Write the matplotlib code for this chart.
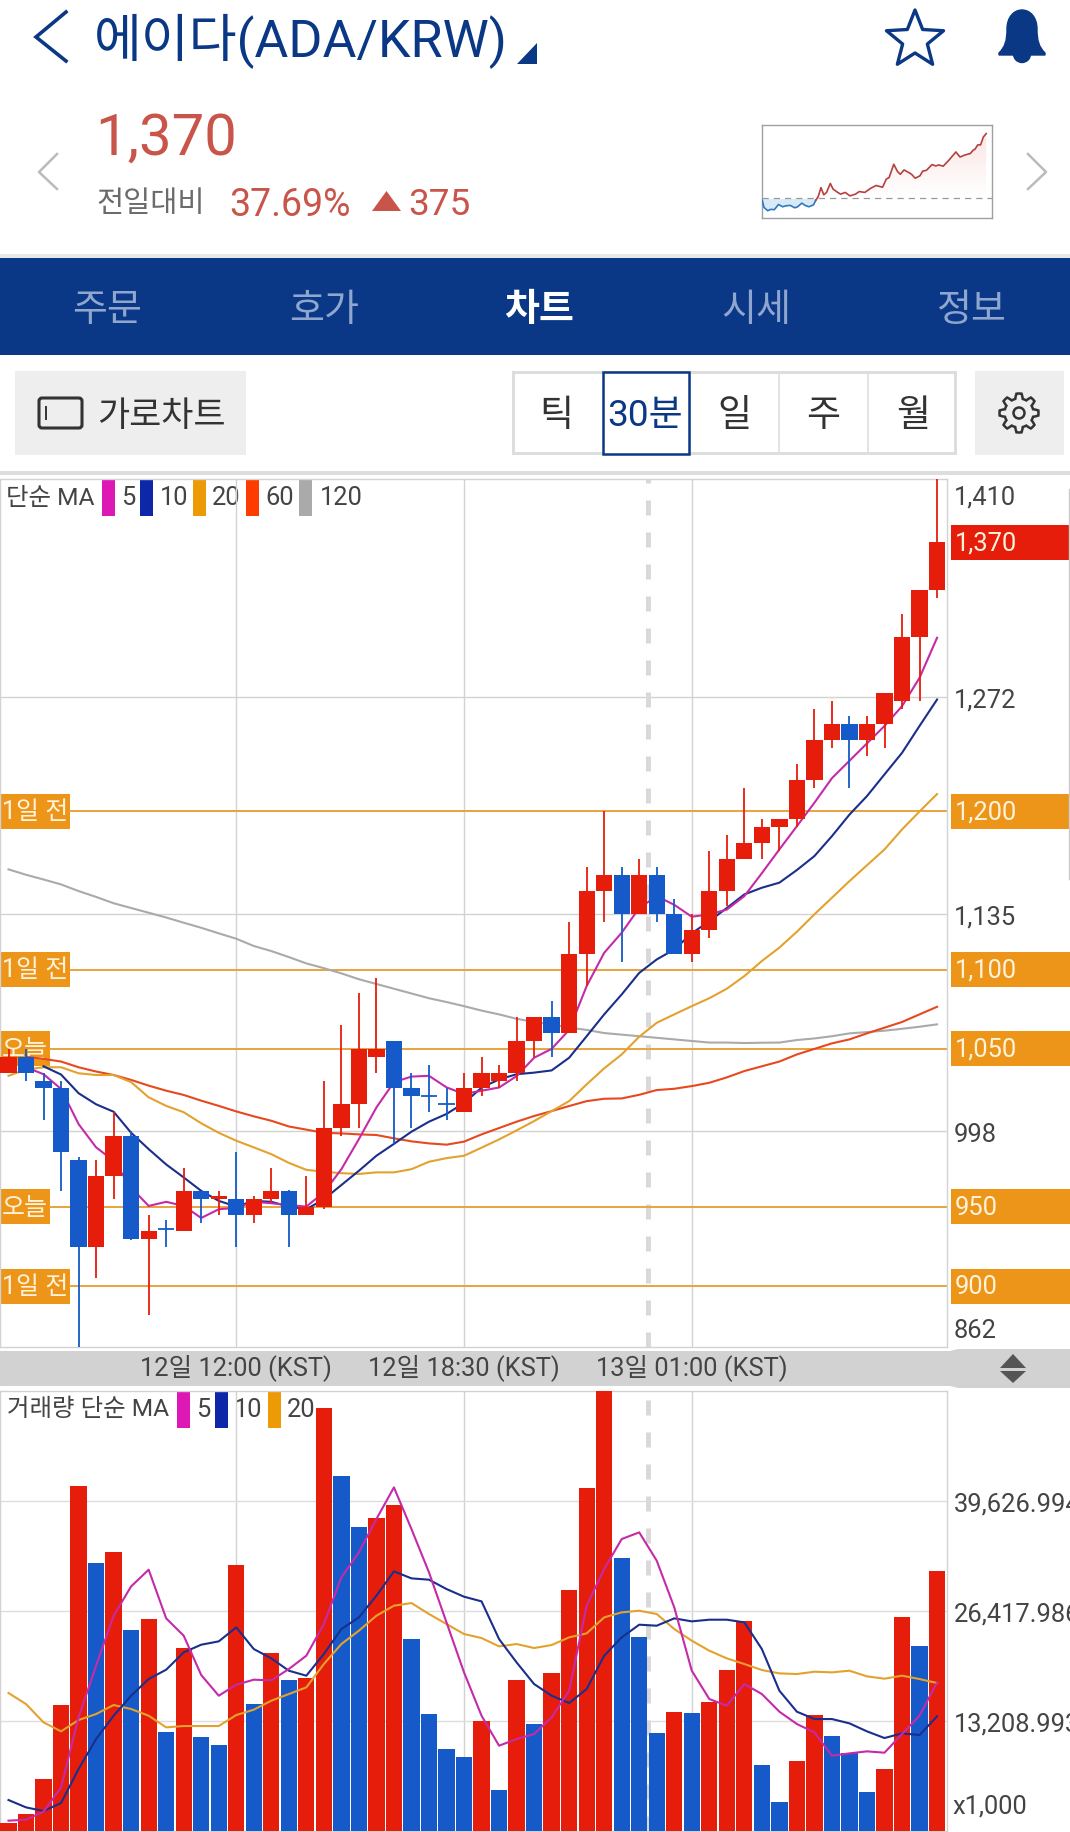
import numpy as np
import matplotlib
matplotlib.use("Agg")
import matplotlib.pyplot as plt
from matplotlib.patches import Rectangle, Polygon, Circle, PathPatch, FancyBboxPatch
from matplotlib.path import Path

plt.rcParams['font.family'] = ['Roboto', 'Noto Sans CJK KR', 'DejaVu Sans']

# ---------------- DATA ----------------
# candles, 30 minute bars
opens = [1035, 1045, 1030, 1025, 980, 925, 970, 995, 930, 936, 935, 960, 955, 955, 945, 955, 960, 945,
         950, 1000, 1015, 1045, 1055, 1025, 1020, 1015, 1010, 1025, 1030, 1035, 1055, 1070, 1060, 1110,
         1150, 1160, 1135, 1160, 1135, 1110, 1125, 1150, 1170, 1180, 1190, 1195, 1220, 1245, 1255, 1245,
         1255, 1270, 1310, 1340]
closes = [1045, 1035, 1025, 985, 925, 970, 995, 930, 935, 936, 960, 955, 957, 945, 955, 960, 945, 950,
          1000, 1015, 1050, 1050, 1025, 1020, 1020, 1015, 1025, 1035, 1035, 1055, 1070, 1060, 1110, 1150,
          1160, 1135, 1160, 1135, 1110, 1125, 1150, 1170, 1180, 1190, 1195, 1220, 1245, 1255, 1245, 1255,
          1275, 1310, 1340, 1370]
highs = [1050, 1050, 1035, 1030, 982, 980, 1010, 998, 945, 942, 975, 960, 960, 985, 957, 975, 961, 970,
         1030, 1065, 1085, 1095, 1055, 1035, 1040, 1025, 1035, 1045, 1040, 1070, 1070, 1080, 1130, 1165,
         1200, 1165, 1170, 1165, 1145, 1135, 1175, 1185, 1215, 1195, 1195, 1230, 1265, 1270, 1260, 1260,
         1275, 1325, 1340, 1410]
lows = [1035, 1030, 1005, 960, 862, 905, 955, 929, 882, 925, 935, 940, 945, 925, 940, 953, 925, 945,
        949, 995, 1000, 1035, 990, 1000, 1010, 1005, 1010, 1020, 1025, 1030, 1045, 1045, 1060, 1090,
        1130, 1105, 1135, 1130, 1110, 1105, 1120, 1140, 1170, 1170, 1175, 1190, 1215, 1240, 1215, 1235,
        1240, 1265, 1270, 1335]
# red or blue body
is_up = [1, 0, 0, 0, 0, 1, 1, 0, 1, 0, 1, 0, 1, 0, 1, 1, 0, 1, 1, 1, 1, 1, 0, 0, 0, 0, 1, 1, 1, 1, 1, 0,
         1, 1, 1, 0, 1, 0, 0, 1, 1, 1, 1, 1, 1, 1, 1, 1, 0, 1, 1, 1, 1, 1]

# price moving averages, the first ones are not drawn in the app
ma5 = [1038.4, 1034, 1024.7, 1002.5, 987.8, 979.3, 962.4, 950.8, 953.4, 950.8, 943.2, 948.7, 949.6, 953.4,
       952.5, 951.3, 950.4, 959.3, 974, 993, 1013, 1029, 1032.5, 1033, 1025.7, 1021.5, 1023.6, 1025.6,
       1032.8, 1044.4, 1050, 1062, 1089.7, 1110.7, 1123.4, 1139, 1146.5, 1141, 1133.5, 1135, 1138, 1146.5,
       1161, 1176, 1190.7, 1205.5, 1221, 1232, 1243, 1254, 1266.5, 1284.4, 1309.7]
ma10 = [1039, 1033.8, 1022, 1015, 1010.3, 997, 986.7, 977, 968.8, 960.3, 954, 950.4, 954, 953.4, 950.4,
        948.7, 955, 964, 973, 982.5, 990, 997.7, 1004, 1008.9, 1015.8, 1025.5, 1030.7, 1034, 1035, 1036.4,
        1044.4, 1058, 1071.8, 1084.4, 1098, 1106.5, 1112.8, 1123, 1130.7, 1139, 1147.6, 1151.8, 1155, 1163,
        1171.8, 1184.4, 1198, 1209.7, 1223.4, 1237, 1254, 1270.7]
ma20 = [1033, 1037, 1038.4, 1038.4, 1034.6, 1033.5, 1033.5, 1029, 1019.4, 1014, 1010, 1003, 997, 992, 987.8,
        983.5, 978, 973.6, 972.4, 971.5, 971, 972, 972, 974, 978.7, 981, 982.5, 987.6, 992.8, 998.5, 1004.4,
        1010.7, 1017, 1027.6, 1037.7, 1046.5, 1057.7, 1066.5, 1071.8, 1077, 1082, 1088, 1096, 1105.5, 1114,
        1124, 1135, 1145.5, 1156, 1166, 1176, 1188.6, 1200, 1211]
ma60 = [1045, 1043.7, 1042, 1038.4, 1035.7, 1033.5, 1030.4, 1026.8, 1023.6, 1020.9, 1017.3, 1014, 1010.5,
        1007.4, 1004.6, 1001, 999, 997, 996.6, 996, 995.6, 993.5, 991.6, 990.3, 989.5, 991.4, 996, 1000,
        1004, 1007.6, 1010.7, 1013.9, 1017, 1018.5, 1018.7, 1021, 1024, 1024.8, 1026.5, 1028.6, 1032, 1036,
        1039, 1042, 1046.5, 1050, 1053.5, 1056, 1059.8, 1063.4, 1067, 1071.8, 1076.6]
ma120 = [1163.4, 1160, 1157, 1153.9, 1149.7, 1146, 1142, 1139, 1136, 1133, 1129.7, 1126.5, 1123, 1119.6, 1115,
         1111.8, 1108, 1104, 1101, 1097.7, 1094, 1091, 1088, 1085, 1082, 1079.6, 1077, 1074.2, 1071.8, 1069,
         1067, 1065.5, 1063.4, 1062, 1060, 1059, 1058, 1057, 1056, 1055, 1054, 1054, 1053.7, 1053.9, 1054,
         1055.6, 1056.6, 1058, 1059.8, 1060.6, 1061.5, 1062.7, 1064, 1065.5]

price_ticks = [1272, 1135, 998]
price_min, price_max = 862, 1410
levels = [1200, 1100, 1050, 950, 900]
level_tags = ['1일 전', '1일 전', '오늘', '오늘', '1일 전']

# volume, x1,000
volume = [921, 2002, 6205, 15091, 41391, 32144, 33465, 24098, 25419, 11809, 21936, 11248, 10288, 31904, 15211,
          21336, 18094, 18334, 50758, 42592, 36467, 37548, 39109, 23017, 14011, 9807, 8847, 13170, 4884, 18094,
          12810, 18934, 28902, 41151, 52840, 32745, 23257, 11729, 14251, 14131, 15452, 19294, 25179, 7886, 3443,
          8366, 13890, 11369, 9327, 4643, 7406, 25659, 22177, 31183]
vol_up = [1, 1, 1, 1, 1, 0, 1, 0, 1, 0, 1, 0, 0, 1, 0, 1, 0, 1, 1, 0, 0, 1, 1, 0, 0, 0, 0, 1, 0, 1, 0, 1, 1, 1,
          1, 0, 0, 0, 1, 0, 1, 1, 1, 0, 0, 1, 1, 0, 0, 0, 1, 1, 0, 1]
vol_ma5 = [1201, 1321, 2282, 5204, 13610, 19815, 25819, 29342, 31343, 25499, 23418, 18694, 16212, 17533, 18134,
           18054, 19415, 21016, 24819, 30423, 33425, 37428, 41231, 36227, 31023, 25019, 19014, 13810, 10208,
           11008, 11609, 13610, 16813, 27020, 31424, 35026, 35827, 32424, 26820, 19214, 15812, 15011, 17613,
           16412, 14291, 12810, 11809, 9007, 9287, 9527, 9367, 11609, 13810, 17813]
vol_ma10 = [3683, 2802, 2362, 3322, 7406, 11008, 13810, 16212, 18214, 19334, 21416, 22337, 22737, 24418, 21816,
            20696, 19214, 18614, 21216, 24218, 25619, 28221, 31143, 30303, 30143, 29022, 28101, 27541, 23017,
            20215, 17613, 16212, 15331, 17013, 21016, 23217, 24739, 24618, 25499, 25139, 25339, 25339, 25019,
            21816, 16813, 14291, 13410, 13410, 12890, 11929, 11128, 11689, 11489, 13730]
vol_ma20 = [16532, 15211, 13010, 11929, 13290, 14011, 15091, 14611, 13810, 12409, 12569, 12569, 12569, 13890,
            14531, 15612, 16412, 17213, 20015, 22417, 24018, 25819, 27020, 27340, 26020, 24819, 23618, 23137,
            22137, 22417, 21936, 22297, 23217, 23698, 25619, 26220, 26420, 26020, 24218, 22817, 21616, 20696,
            20015, 19294, 18894, 18814, 19094, 19014, 19214, 18534, 18254, 18614, 18214, 17733]
vol_ticks = [13208.993, 26417.986, 39626.994]
vol_labels = ['13,208.993', '26,417.986', '39,626.994']
vol_max = 52840

date_slots = [13, 26, 39]
date_labels = ['12일 12:00 (KST)', '12일 18:30 (KST)', '13일 01:00 (KST)']
day_break = 36.5

# small header sparkline
spark_hour = [0, .2, .6, .9, 1.3, 1.75, 2.2, 2.6, 3, 3.5, 3.8, 4.25, 4.6, 5, 5.5, 5.75, 6, 6.3, 6.6, 6.9, 7.3, 7.6,
              8.1, 8.4, 8.9, 9.4, 10, 10.4, 11, 11.6, 12.2, 12.9, 13.3, 13.6, 14.1, 14.5, 14.8, 15.2, 15.7, 16,
              16.4, 16.9, 17.2, 17.6, 18.2, 18.6, 18.9, 19.4, 20, 20.75, 21.2, 21.75, 22.3, 22.6, 22.8, 23.1,
              23.4, 23.7, 24]
spark_price = [985, 943, 924, 932, 930, 960, 947, 953, 955, 941, 947, 968, 955, 947, 958, 985, 1005, 1058, 1016,
               1030, 1082, 1049, 1030, 1020, 1030, 1010, 1020, 1035, 1030, 1053, 1070, 1060, 1107, 1116, 1193, 1151,
               1135, 1160, 1145, 1135, 1112, 1126, 1153, 1158, 1191, 1183, 1189, 1182, 1216, 1264, 1235, 1247, 1255,
               1274, 1280, 1305, 1305, 1351, 1370]
prev_close = 995

tab_names = ['주문', '호가', '차트', '시세', '정보']
period_names = ['틱', '30분', '일', '주', '월']

# ---------------- STYLE ----------------
W, H = 1070, 1833
NAVY = '#0a3885'
RED = '#e71d0b'
BLUE = '#155ac8'
ORANGE_TAG = '#ec9519'
TXT = '#444444'
GRID = '#d2d2d2'
C5, C10, C20, C60, C120 = '#c52aa8', '#1a2f8c', '#e3a22e', '#e8481e', '#aaaaaa'
SLOT = 17.52
X0 = 8.5
CHART_R = 946.5
AXIS_PX = 25.5
LEGEND_PX = 24.5


def fs(px):
    return px * 0.72


fig = plt.figure(figsize=(W / 100, H / 100), dpi=100, facecolor='white')
ui = fig.add_axes([0, 0, 1, 1], zorder=0)
ui.set_xlim(0, W)
ui.set_ylim(H, 0)
ui.axis('off')


def box(x0, y0, x1, y1, color, **kw):
    ui.add_patch(Rectangle((x0, y0), x1 - x0, y1 - y0, facecolor=color, edgecolor='none', **kw))


def label(x, y, s, px, color=TXT, ha='left', va='center', **kw):
    ui.text(x, y, s, fontsize=fs(px), color=color, ha=ha, va=va, **kw)


def make_axes(top, bottom):
    ax = fig.add_axes([0, 1 - bottom / H, CHART_R / W, (bottom - top) / H], zorder=2)
    ax.set_facecolor('none')
    ax.set_xlim((0 - X0) / SLOT, (CHART_R - X0) / SLOT)
    ax.set_xticks([])
    ax.yaxis.tick_right()
    ax.tick_params(axis='y', length=0, pad=5, labelsize=fs(AXIS_PX), labelcolor=TXT)
    for s in ax.spines.values():
        s.set_color(GRID)
        s.set_linewidth(1.0)
    for i in date_slots:
        ax.axvline(i, color=GRID, lw=1.0, zorder=0)
    ax.axvline(day_break, color='#d9d9d9', lw=3.6, dashes=(3, 3.4), dash_capstyle='butt', zorder=1)
    return ax


def gradient_fill(ax, hx, hy, base, rgb, far_value, far_alpha):
    # fill between line and base that fades out from far_value towards base
    ramp = np.linspace(0, 1, 64).reshape(-1, 1)
    img = np.zeros((64, 1, 4))
    img[..., 0], img[..., 1], img[..., 2] = rgb
    img[..., 3] = ramp * far_alpha
    im = ax.imshow(img, extent=(hx.min(), hx.max(), base, far_value), origin='lower', aspect='auto', zorder=1)
    poly = Polygon(np.r_[np.c_[hx, hy], [[hx[-1], base], [hx[0], base]]], transform=ax.transData, fc='none', ec='none')
    ax.add_patch(poly)
    im.set_clip_path(poly)


# ---------------- HEADER ----------------
ui.plot([66, 36, 66], [13, 38, 62], color=NAVY, lw=2.6, solid_joinstyle='miter')
label(94, 41, '에이다(ADA/KRW)', 52, color=NAVY)
ui.add_patch(Polygon([(537, 44), (537, 65), (517, 65)], color=NAVY, lw=0))

ang = np.pi / 2 + np.arange(10) * np.pi / 5
rad = np.where(np.arange(10) % 2 == 0, 30, 13)
ui.add_patch(Polygon(np.c_[915 + rad * np.cos(ang), 41 - rad * np.sin(ang)], facecolor='white', edgecolor=NAVY,
                     lw=2.4, joinstyle='round'))

bell = Path([(999, 54), (1005, 48), (1007, 42), (1007, 30), (1007, 18), (1014, 11), (1022, 11), (1030, 11),
             (1037, 18), (1037, 30), (1037, 42), (1039, 48), (1045, 54), (1045, 56), (999, 56), (999, 54)],
            [Path.MOVETO] + [Path.CURVE4] * 12 + [Path.LINETO, Path.LINETO, Path.CLOSEPOLY])
ui.add_patch(PathPatch(bell, facecolor=NAVY, edgecolor=NAVY, lw=1))
ui.add_patch(Circle((1022, 55), 8.5, color=NAVY))

label(95, 139, '1,370', 58, color='#c9554a')
label(96, 204, '전일대비', 29.5, color='#6b6b6b')
label(229, 205, '37.69%', 37.5, color='#c9554a')
ui.add_patch(Polygon([(372, 212), (401, 212), (386.5, 192)], color='#c9554a', lw=0))
label(408, 205, '375', 37, color='#c9554a')
ui.plot([57, 39, 57], [155, 173, 190], color='#bbbbbb', lw=1.8)
ui.plot([1028, 1046, 1028], [155, 173, 190], color='#bbbbbb', lw=1.8)

# sparkline
spark = fig.add_axes([761.5 / W, 1 - 219 / H, 230 / W, 93 / H], zorder=1)
spark.set_xticks([])
spark.set_yticks([])
for s in spark.spines.values():
    s.set_color('#a0a0a0')
    s.set_linewidth(1.0)
hours = np.array(spark_hour)
sp = np.array(spark_price)
gradient_fill(spark, hours[15:], sp[15:], prev_close, (0.85, 0.3, 0.25), 1370, 0.14)
spark.fill_between(hours[:16], np.minimum(sp[:16], prev_close), prev_close, color='#d9eaf7', lw=0, zorder=1)
spark.axhline(prev_close, color='#999999', lw=0.9, dashes=(5, 4), zorder=2)
spark.plot(hours[:16], sp[:16], color='#2f78c4', lw=1.2, zorder=3)
spark.plot(hours[15:], sp[15:], color='#b5403c', lw=1.2, zorder=3)
spark.set_xlim(-0.07, 24.57)
spark.set_ylim(882, 1420)

# ---------------- TABS AND BUTTONS ----------------
box(0, 255, W, 259, '#e8e8e8')
box(0, 259, W, 356, '#0a3887')
for name, x in zip(tab_names, [107, 324, 539, 756, 972]):
    picked = name == '차트'
    label(x, 310, name, 38, color='white' if picked else '#8fa6cf', ha='center',
          fontweight='bold' if picked else 'normal')

box(15, 372, 246, 456, '#eeeeee')
ui.add_patch(FancyBboxPatch((39, 399), 43, 30, boxstyle='round,pad=0,rounding_size=3', facecolor='none',
                            edgecolor='#333333', lw=2.2))
ui.plot([46, 46], [408, 420], color='#333333', lw=1.4)
label(97, 416, '가로차트', 35, color='#333333')

box(512, 372, 957, 456, '#dddddd')
box(515, 375, 954, 453, 'white')
for x in [689.5, 779, 868]:
    box(x - 1, 375, x + 1, 453, '#e3e3e3')
ui.add_patch(Rectangle((603, 373), 86, 82, facecolor='white', edgecolor=NAVY, lw=1.8))
for name, x in zip(period_names, [556, 645, 734, 823, 913]):
    label(x, 416, name, 37, color=NAVY if name == '30분' else '#333333', ha='center')

box(975, 372, 1064, 456, '#eeeeee')
t = np.linspace(0, 2 * np.pi, 97)
gear_r = 17 + 2.5 * np.clip(3 * np.cos(8 * t), -1, 1)
ui.add_patch(Polygon(np.c_[1019 + gear_r * np.cos(t), 414 + gear_r * np.sin(t)], facecolor='none', edgecolor='#333333',
                     lw=1.8))
ui.add_patch(Circle((1019, 414), 5.5, facecolor='none', edgecolor='#333333', lw=1.8))
box(0, 472, W, 476, '#dddddd')

# ---------------- PRICE CHART ----------------
slots = np.arange(len(opens))
price_ax = make_axes(480, 1347.5)
price_ax.set_ylim(price_min, price_max)
price_ax.set_yticks(price_ticks)
price_ax.set_yticklabels([f'{v:,}' for v in price_ticks])
price_ax.grid(axis='y', color=GRID, lw=1.0)
price_ax.set_axisbelow(True)

tag_widths = {'1일 전': 70, '오늘': 50}
for lvl, tag in zip(levels, level_tags):
    w = tag_widths[tag]
    price_ax.axhline(lvl, xmin=w / CHART_R, color='#e8a33d', lw=1.4, zorder=1)
    y = 1287 - 1.583 * (lvl - 900)
    box(0, y - 17.5, w, y + 17.5, ORANGE_TAG)
    label(w / 2, y, tag, 25, color='#fff3dc', ha='center')
    box(951, y - 17.5, W, y + 17.5, ORANGE_TAG)
    label(955, y, f'{lvl:,}', AXIS_PX, color='#fff3dc')

# moving averages run behind the candles
for ma, color in [(ma120, C120), (ma60, C60), (ma20, C20), (ma10, C10), (ma5, C5)]:
    price_ax.plot(slots[-len(ma):], ma, color=color, lw=1.5, zorder=3)

colors = [RED if u else BLUE for u in is_up]
price_ax.vlines(slots, lows, highs, colors=colors, lw=1.3, zorder=4)
heights = [abs(c - o) for o, c in zip(opens, closes)]
bottoms = [min(o, c) for o, c in zip(opens, closes)]
price_ax.bar(slots, heights, bottom=bottoms, width=0.93, color=colors, lw=0, zorder=4)
flat = [i for i in slots if heights[i] == 0]
price_ax.hlines([opens[i] for i in flat], np.array(flat) - 0.46, np.array(flat) + 0.46,
                colors=[colors[i] for i in flat], lw=1.3, zorder=4)

label(954, 497, '1,410', AXIS_PX)
box(951, 526, W, 561, RED)
label(955, 543, '1,370', AXIS_PX, color='#fff3dc')
label(954, 1331, '862', AXIS_PX)
ui.plot([1068.5, 1068.5], [490, 880], color='#cccccc', lw=1.0)

# legend
label(6, 498, '단순 MA', LEGEND_PX)
for x0, c, x1, s in [(102, '#dd18b4', 121, '5'), (140, '#0c27a7', 160, '10'), (193, '#ec9a05', 212, '20'),
                     (246, '#ff3c00', 265, '60'), (299, '#aaaaaa', 320, '120')]:
    box(x0, 480, x0 + 13, 517, c)
    label(x1, 498, s, AXIS_PX)

# ---------------- DATE STRIP ----------------
box(0, 1352, 950, 1387, '#d2d2d2')
ui.add_patch(Polygon([(950, 1352), (958, 1350), (W, 1350), (W, 1389), (958, 1389), (950, 1387)], color='#d2d2d2', lw=0))
ui.add_patch(Polygon([(1000, 1369), (1026, 1369), (1013, 1355)], color='#555555', lw=0))
ui.add_patch(Polygon([(1000, 1372), (1026, 1372), (1013, 1384)], color='#555555', lw=0))
for i, s in zip(date_slots, date_labels):
    label(X0 + SLOT * i, 1368, s, AXIS_PX, ha='center')

# ---------------- VOLUME CHART ----------------
vol_ax = make_axes(1391.7, 1831.7)
vol_ax.set_ylim(0, vol_max)
vol_ax.set_yticks(vol_ticks)
vol_ax.set_yticklabels(vol_labels)
vol_ax.grid(axis='y', color='#dddddd', lw=1.0)
vol_ax.set_axisbelow(True)
vol_colors = [RED if u else BLUE for u in vol_up]
vol_ax.bar(slots, volume, width=0.93, color=vol_colors, lw=0, zorder=3)
for ma, color in [(vol_ma20, C20), (vol_ma10, C10), (vol_ma5, C5)]:
    vol_ax.plot(slots, ma, color=color, lw=1.5, zorder=4)

label(7, 1410, '거래량 단순 MA', LEGEND_PX)
for x0, c, x1, s in [(177, '#dd18b4', 196, '5'), (215, '#0c27a7', 234, '10'), (268, '#ec9a05', 287, '20')]:
    box(x0, 1392, x0 + 13, 1429, c)
    label(x1, 1410, s, AXIS_PX)
label(952, 1807, 'x1,000', AXIS_PX)

plt.savefig('out.png', dpi=100, facecolor='white')
